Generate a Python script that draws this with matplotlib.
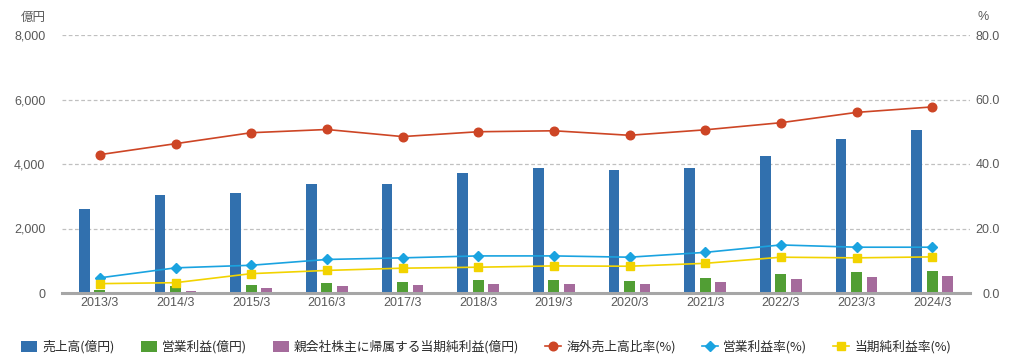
import matplotlib
matplotlib.use("Agg")
import matplotlib.pyplot as plt
import numpy as np

plt.rcParams['font.family'] = ['Liberation Sans', 'Noto Sans CJK JP', 'DejaVu Sans']

years = ["2013/3", "2014/3", "2015/3", "2016/3", "2017/3", "2018/3",
         "2019/3", "2020/3", "2021/3", "2022/3", "2023/3", "2024/3"]
sales = [2620, 3040, 3100, 3380, 3380, 3720, 3875, 3815, 3875, 4250, 4775, 5055]
op_profit = [95, 215, 250, 310, 340, 400, 400, 370, 465, 590, 650, 680]
net_profit = [30, 60, 155, 215, 250, 280, 280, 280, 340, 435, 500, 530]
overseas_ratio = [42.9, 46.3, 49.7, 50.7, 48.5, 50.0, 50.3, 48.9, 50.6, 52.8, 56.0, 57.7]
op_margin = [4.7, 7.8, 8.6, 10.4, 10.9, 11.5, 11.5, 11.1, 12.6, 14.9, 14.2, 14.2]
net_margin = [2.9, 3.2, 6.0, 7.0, 7.7, 8.0, 8.4, 8.3, 9.2, 11.1, 10.9, 11.2]

names = ["売上高(億円)", "営業利益(億円)", "親会社株主に帰属する当期純利益(億円)",
         "海外売上高比率(%)", "営業利益率(%)", "当期純利益率(%)"]
left_ticks = [0, 2000, 4000, 6000, 8000]
right_ticks = [0, 20, 40, 60, 80]

c_blue = "#3170ae"
c_green = "#519e34"
c_purple = "#a56b9c"
c_red = "#cd4525"
c_lblue = "#1aa3e0"
c_yellow = "#f2d300"
tick_col = "#595959"

fig = plt.figure(figsize=(10.17, 3.64), dpi=100)
ax = fig.add_axes([62/1017, 1-293/364, (970-62)/1017, (293-35)/364])
ax2 = ax.twinx()

x = np.arange(len(years))
w = 0.145
off = 0.205
b1 = ax.bar(x - off, sales, w, color=c_blue, label=names[0], zorder=2)
b2 = ax.bar(x, op_profit, w, color=c_green, label=names[1], zorder=2)
b3 = ax.bar(x + off, net_profit, w, color=c_purple, label=names[2], zorder=2)

l1, = ax2.plot(x, overseas_ratio, color=c_red, lw=1.2, marker='o', ms=6.2,
               label=names[3], zorder=3)
l2, = ax2.plot(x, op_margin, color=c_lblue, lw=1.2, marker='D', ms=4.6,
               label=names[4], zorder=3)
l3, = ax2.plot(x, net_margin, color=c_yellow, lw=1.2, marker='s', ms=6.2,
               label=names[5], zorder=3)

ax.set_xlim(-0.5, len(years) - 0.5)
ax.set_ylim(0, 8000)
ax2.set_ylim(0, 80)
ax.set_yticks(left_ticks)
ax.set_yticklabels([f"{v:,}" for v in left_ticks])
ax2.set_yticks(right_ticks)
ax2.set_yticklabels([f"{v:.1f}" for v in right_ticks])
ax.set_xticks(x)
ax.set_xticklabels(years)

for a in (ax, ax2):
    for s in a.spines.values():
        s.set_visible(False)
ax.spines['bottom'].set_visible(True)
ax.spines['bottom'].set_color("#a6a6a6")
ax.spines['bottom'].set_linewidth(2.2)
ax.spines['bottom'].set_zorder(4)

ax.grid(axis='y', color="#c0c0c0", linestyle=(0, (3, 2)), linewidth=0.9, zorder=0)
ax.set_axisbelow(True)

ax.tick_params(axis='x', length=0, pad=3, labelsize=9, labelcolor=tick_col)
ax.tick_params(axis='y', length=0, pad=12, labelsize=9, labelcolor=tick_col)
ax2.tick_params(axis='y', length=0, pad=21.5, labelsize=9, labelcolor=tick_col)
for t in ax2.get_yticklabels():
    t.set_horizontalalignment('right')

fig.text(46/1017, 1-17.5/364, "億円", ha='right', va='center', fontsize=9,
         color=tick_col, family=['Noto Sans CJK JP', 'DejaVu Sans'])
fig.text(977/1017, 1-17.5/364, "%", ha='left', va='center', fontsize=9,
         color=tick_col)

leg = fig.legend([b1, b2, b3, l1, l2, l3], names, loc='center left',
                 bbox_to_anchor=(21/1017, 1-347/364), ncol=6, frameon=False,
                 prop={'family': ['Noto Sans CJK JP', 'DejaVu Sans'], 'size': 9.2},
                 handlelength=1.25, handleheight=0.95, handletextpad=0.4,
                 columnspacing=2.05, borderaxespad=0, borderpad=0)
for t in leg.get_texts():
    t.set_color("#2a2a2a")

fig.savefig("out.png", dpi=100)
